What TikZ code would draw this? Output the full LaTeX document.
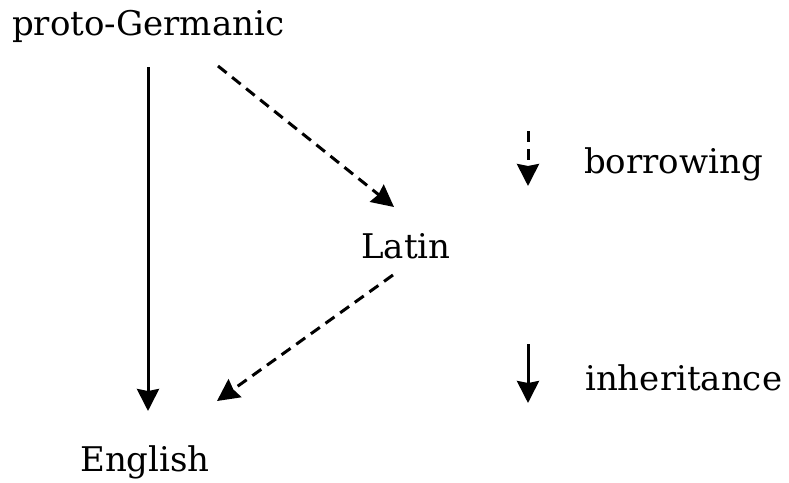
\documentclass[tikz,border=0pt]{standalone}
\usepackage{fontspec}
\setmainfont{DejaVu Serif}
\usetikzlibrary{arrows.meta}
\begin{document}
\begin{tikzpicture}[x=1pt,y=-1pt,
  lang/.style={anchor=base west,inner sep=0pt,font=\fontsize{34}{40}\selectfont},
  conn/.style={line width=3pt,-{Stealth[length=22pt,width=22pt,inset=2pt]}},
  borrow/.style={conn,dash pattern=on 11pt off 7pt}]
  \useasboundingbox (0,0) rectangle (789,482);
  % languages
  \node[lang] (pg) at (12,35) {proto-Germanic};
  \node[lang] (la) at (361,258) {Latin};
  \node[lang] (en) at (80,471) {English};
  % legend labels
  \node[lang] (bo) at (584,173) {borrowing};
  \node[lang] (in) at (585,390) {inheritance};
  % connector end points
  \coordinate (pgA) at (148,67);
  \coordinate (enA) at (148,411);
  \coordinate (pgB) at (218,66);
  \coordinate (laIn) at (394,207);
  \coordinate (laOut) at (393,275);
  \coordinate (enB) at (217,401);
  \coordinate (boA) at (528,131);
  \coordinate (boB) at (528,186);
  \coordinate (inA) at (528,344);
  \coordinate (inB) at (528,403);
  % connectors
  \draw[conn] (pgA) -- (enA);
  \draw[borrow] (pgB) -- (laIn);
  \draw[borrow] (laOut) -- (enB);
  \draw[borrow] (boA) -- (boB);
  \draw[conn] (inA) -- (inB);
\end{tikzpicture}
\end{document}
